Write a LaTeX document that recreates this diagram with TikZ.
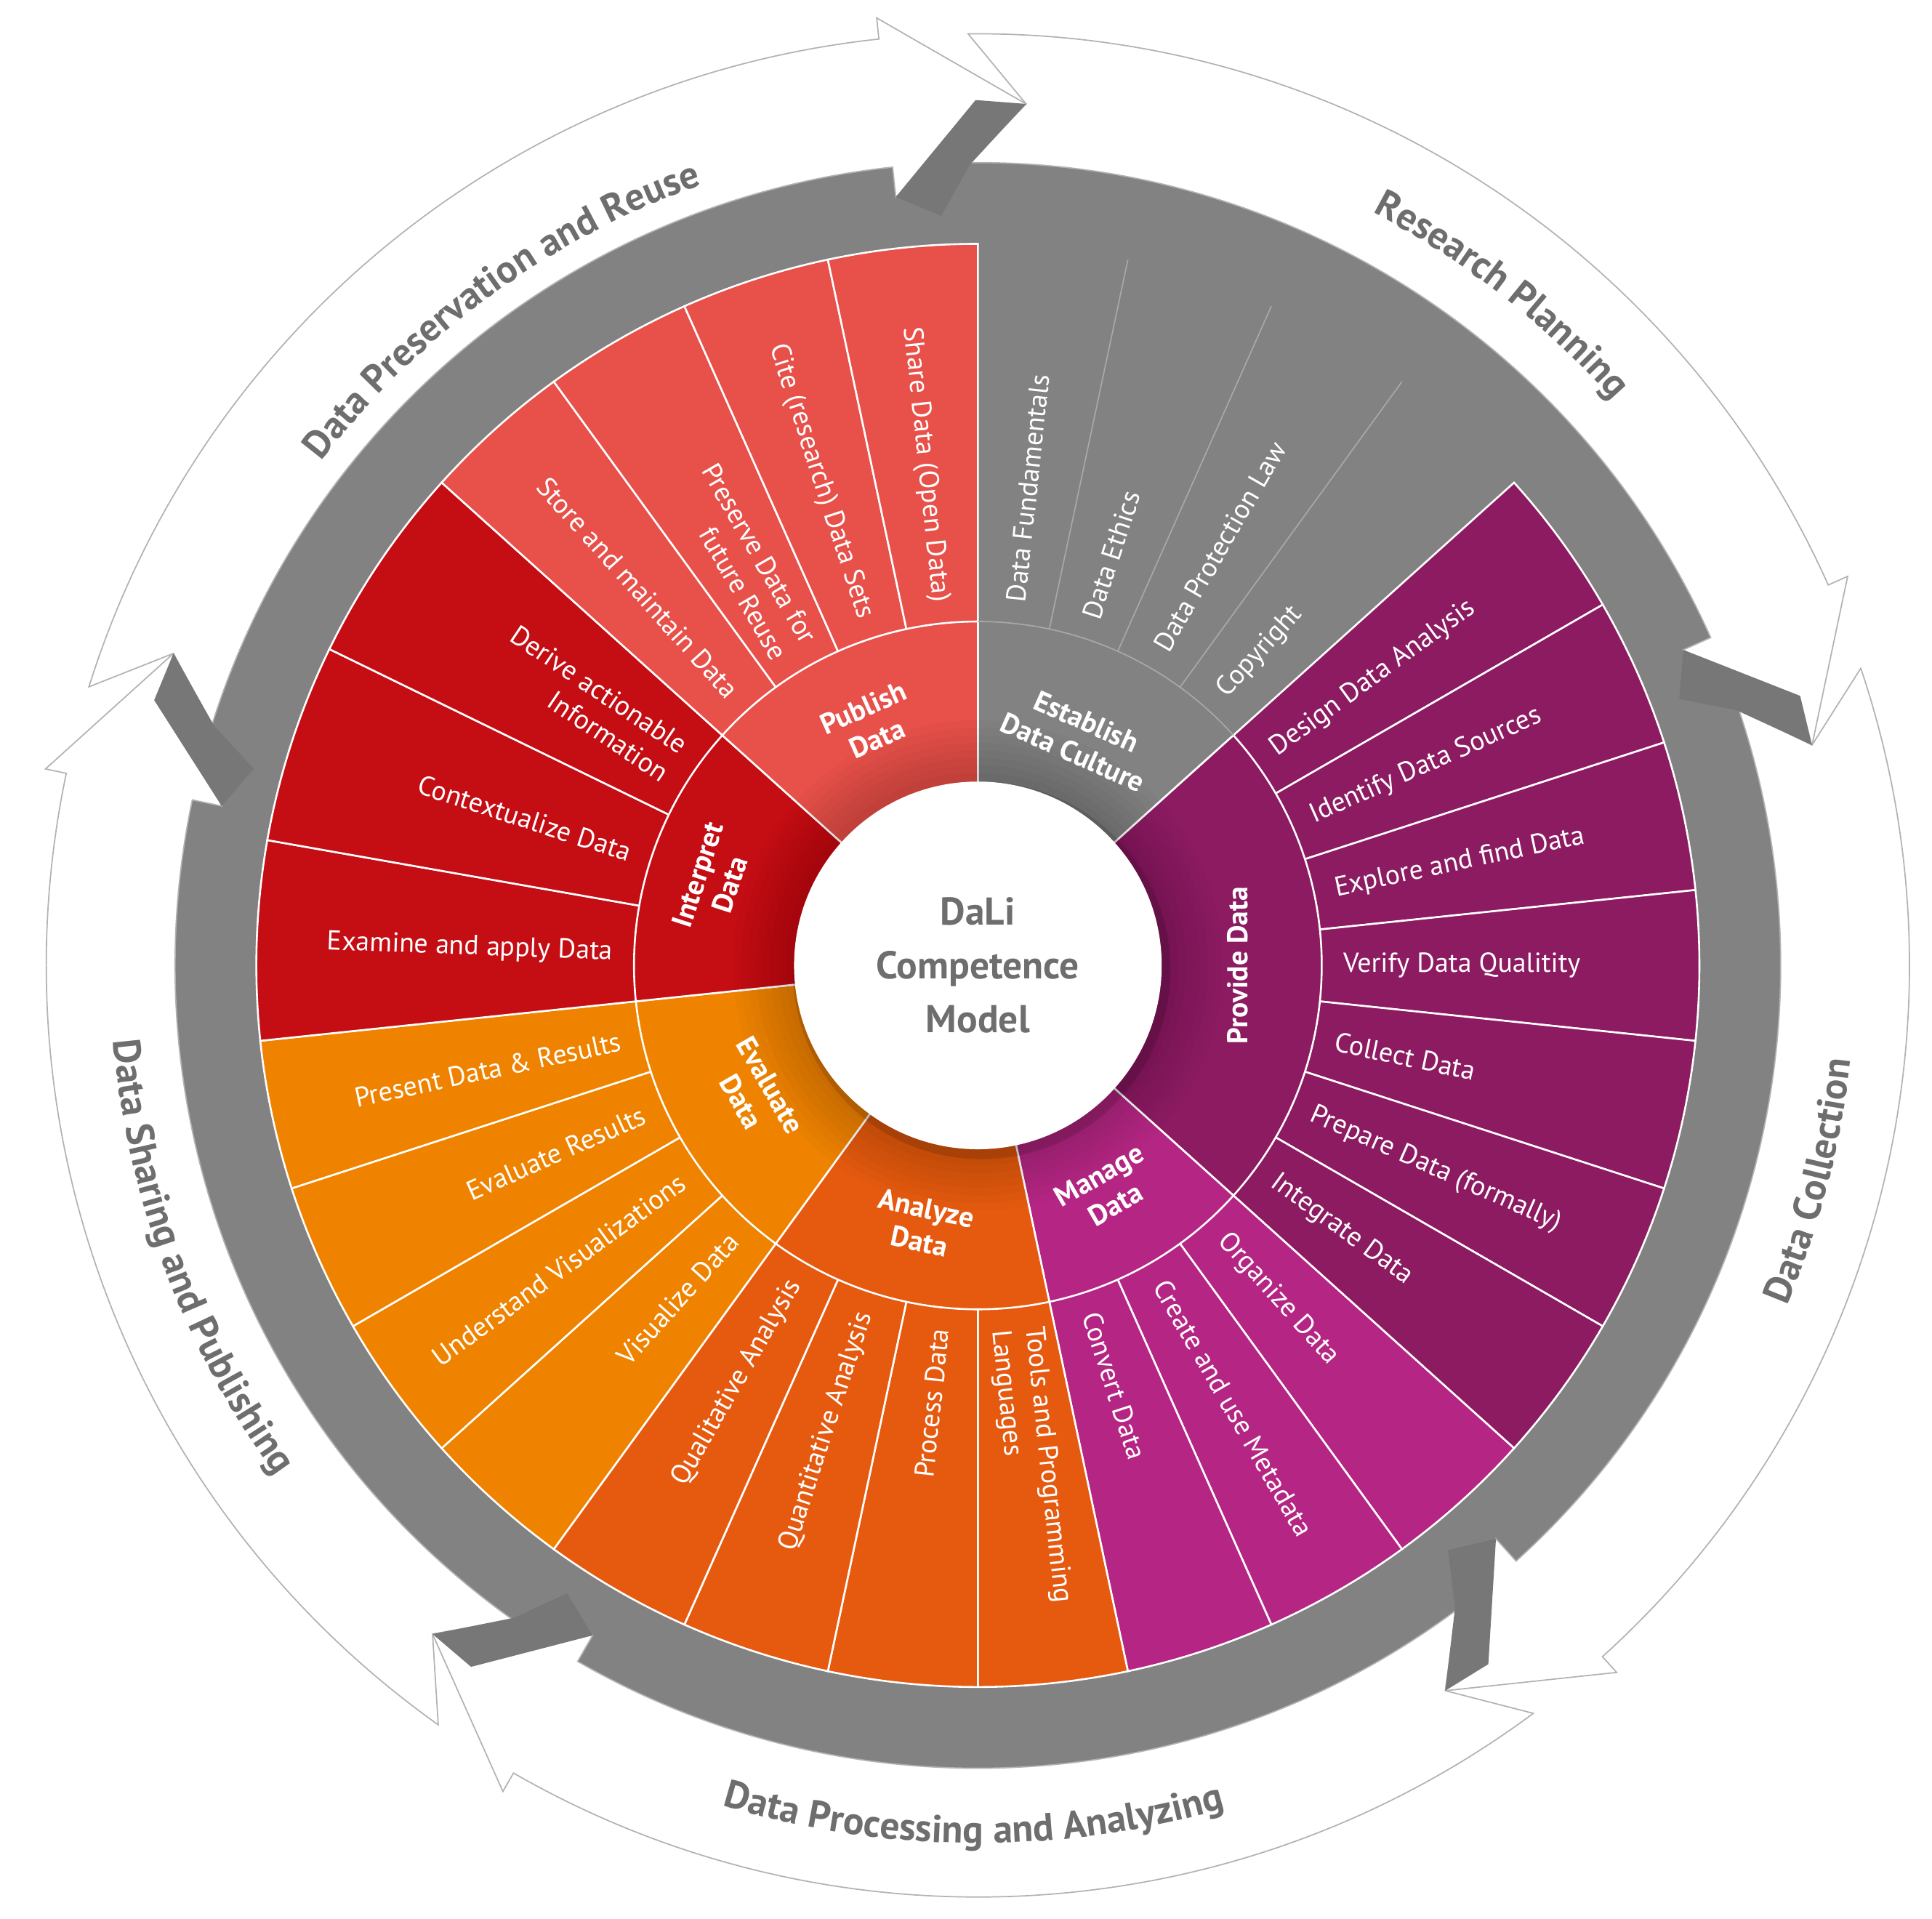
\documentclass[tikz,border=0pt]{standalone}
\usepackage{fontspec}
\setmainfont{PT Sans}
\usetikzlibrary{decorations.text}
\definecolor{cPub}{HTML}{E8504A}
\definecolor{cInt}{HTML}{C50D14}
\definecolor{cEva}{HTML}{EF8300}
\definecolor{cAna}{HTML}{E65A10}
\definecolor{cMan}{HTML}{B52684}
\definecolor{cPro}{HTML}{8D1B62}
\definecolor{cGrey}{HTML}{828282}
\definecolor{cWall}{HTML}{777777}
\definecolor{cTxt}{HTML}{6E6E6E}
\definecolor{cLine}{HTML}{A8A8A8}
\newcommand\mysect[3]{%
  \fill[#3, draw=white, line width=1.5pt] (0,0) -- (#1:577) arc[start angle=#1, end angle=#2, radius=577] -- cycle;}
\newcommand\myring[3]{%
  \fill[#3, draw=white, line width=1.5pt] (0,0) -- (#1:275) arc[start angle=#1, end angle=#2, radius=275] -- cycle;}
\newcommand\labR[3]{\node[lbl, anchor=west, rotate=#1, align=left] (#3) at (#1:292) {#2};}
\newcommand\labL[3]{\node[lbl, anchor=east, rotate=#1+180, align=right] (#3) at (#1:292) {#2};}
\newcommand\myarrow[2]{%
  \filldraw[arrw] (#1+3.8:745) arc[start angle=#1+3.8, end angle=#2+9.3, radius=745]
    -- (#2+9.3:762) -- (#2:690) -- (#2+9.3:618) -- (#2+9.3:642)
    arc[start angle=#2+9.3, end angle=#1+3.8, radius=642] -- (#1:690) -- cycle;}
\newcommand\mywall[1]{%
  \fill[cWall] (#1+9.3:618) -- (#1+3.35:692) -- (#1:690) -- (#1+3.8:640) -- (#1+6:600) -- cycle;}
\tikzset{
  lbl/.style={text=white, font=\fontsize{22}{27}\selectfont, inner sep=0pt},
  cat/.style={text=white, font=\bfseries\fontsize{23}{27}\selectfont, align=center, inner sep=0pt},
  arrw/.style={fill=white, draw=black!30, line width=1pt},
  atxt/.style={decorate, decoration={text along path, text align=center,
     text={|\bfseries\fontsize{31}{33}\selectfont\color{cTxt}|#1}}}
}
\begin{document}
\begin{tikzpicture}[x=1pt,y=1pt]
\useasboundingbox (-782,-762) rectangle (763,772);
% grey disk
\fill[cGrey] (0,0) circle[radius=652];
% arrows
\myarrow{86.8}{14.8}
\myarrow{14.8}{-57.2}
\myarrow{-57.2}{-129.2}
\myarrow{-129.2}{-201.2}
\myarrow{158.8}{86.8}
\mywall{14.8}
\mywall{-57.2}
\mywall{-129.2}
\mywall{158.8}
\mywall{86.8}
% arrow labels
\path[atxt={Research Planning}] (87:680) arc[start angle=87, end angle=17, radius=680];
\path[atxt={Data Collection}] (-49.5:702) arc[start angle=-49.5, end angle=20.5, radius=702];
\path[atxt={Data Processing and Analyzing}] (-135.3:702) arc[start angle=-135.3, end angle=-45.3, radius=702];
\path[atxt={Data Sharing and Publishing}] (-204.5:694) arc[start angle=-204.5, end angle=-114.5, radius=694];
\path[atxt={Data Preservation and Reuse}] (171:662) arc[start angle=171, end angle=81, radius=662];
% outer sectors
\foreach \a in {42,30,18,6,-6,-18,-30}{\mysect{\a}{\a-12}{cPro}}
\foreach \a in {-42,-54,-66}{\mysect{\a}{\a-12}{cMan}}
\foreach \a in {-78,-90,-102,-114}{\mysect{\a}{\a-12}{cAna}}
\foreach \a in {-126,-138,-150,-162}{\mysect{\a}{\a-12}{cEva}}
\foreach \a in {186,170,154}{\mysect{\a}{\a-16}{cInt}}
\foreach \a in {138,126,114,102}{\mysect{\a}{\a-12}{cPub}}
\foreach \a in {78,66,54}{\draw[cLine, line width=1pt] (\a:275) -- (\a:577);}
% inner ring
\myring{42}{-42}{cPro}
\myring{-42}{-78}{cMan}
\myring{-78}{-126}{cAna}
\myring{-126}{-174}{cEva}
\myring{186}{138}{cInt}
\myring{138}{90}{cPub}
\draw[cLine, line width=1pt] (90:275) arc[start angle=90, end angle=42, radius=275];
% shading around centre
\foreach \i in {1,...,8}{\fill[black, opacity=0.018] (0,0) circle[radius=148+6*\i];}
% centre
\fill[black, opacity=0.12] (3,-4) circle[radius=151];
\fill[white] (0,0) circle[radius=147];
\node[align=center, text=cTxt, font=\bfseries\fontsize{31}{43}\selectfont] (centre) at (0,0) {DaLi\\Competence\\Model};
% category labels
\node[cat, rotate=24] (cpub) at (114:212) {Publish\\Data};
\node[cat, rotate=-24] (cest) at (66:200) {Establish\\Data Culture};
\node[cat, rotate=90] (cpro) at (0:208) {Provide Data};
\node[cat, rotate=30] (cman) at (-60:207) {Manage\\Data};
\node[cat, rotate=-12] (cana) at (-102:212) {Analyze\\Data};
\node[cat, rotate=-60] (ceva) at (-150:205) {Evaluate\\Data};
\node[cat, rotate=72] (cint) at (162:222) {Interpret\\Data};
% sector labels
\labR{84}{Data Fundamentals}{e1}
\labR{72}{Data Ethics}{e2}
\labR{60}{Data Protection Law}{e3}
\labR{48}{Copyright}{e4}
\labR{36}{Design Data Analysis}{p1}
\labR{24}{Identify Data Sources}{p2}
\labR{12}{Explore and find Data}{p3}
\labR{0}{Verify Data Qualitity}{p4}
\labR{-12}{Collect Data}{p5}
\labR{-24}{Prepare Data (formally)}{p6}
\labR{-36}{Integrate Data}{p7}
\labR{-48}{Organize Data}{m1}
\labR{-60}{Create and use Metadata}{m2}
\labR{-72}{Convert Data}{m3}
\labR{-84}{Tools and Programming\\Languages}{a1}
\labL{-96}{Process Data}{a2}
\labL{-108}{Quantitative Analysis}{a3}
\labL{-120}{Qualitative Analysis}{a4}
\labL{-132}{Visualize Data}{v1}
\labL{-144}{Understand Visualizations}{v2}
\labL{-156}{Evaluate Results}{v3}
\labL{-168}{Present Data \& Results}{v4}
\labL{178}{Examine and apply Data}{i1}
\labL{162}{Contextualize Data}{i2}
\labL{146}{Derive actionable\\Information}{i3}
\labL{132}{Store and maintain Data}{u1}
\labL{120}{Preserve Data for\\future Reuse}{u2}
\labL{108}{Cite (research) Data Sets}{u3}
\labL{96}{Share Data (Open Data)}{u4}
\end{tikzpicture}
\end{document}
